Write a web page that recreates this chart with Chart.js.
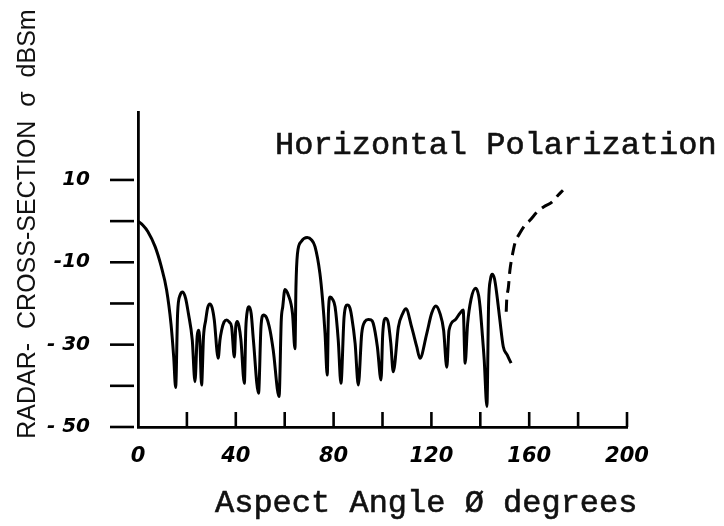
<!DOCTYPE html>
<html>
<head>
<meta charset="utf-8">
<title>Radar Cross-Section - Horizontal Polarization</title>
<script src="https://cdn.jsdelivr.net/npm/chart.js@4.4.1/dist/chart.umd.min.js"></script>
<style>
    html, body { margin: 0; padding: 0; background: #ffffff; }
    #wrap { position: relative; width: 724px; height: 526px; }
</style>
</head>
<body>
<div id="wrap">
    <canvas id="rcsChart" width="724" height="526"></canvas>
</div>
<script>
// --- Data ---
const angleDeg = [
    0, 2, 4, 7, 9.5, 11.7, 13.5, 14.6, 15.4, 16.2, 17.2, 18.3, 19.5, 20.6, 22.2, 23.3,
    24.2, 24.7, 25.3, 26, 26.8, 27.7, 28.5, 29.4, 30.3, 31.2, 32.8, 33.5, 34.2, 35.2,
    36.3, 37.3, 38.3, 39.4, 40, 40.6, 41.3, 42.1, 43.5, 44.1, 44.8, 45.4, 46.3, 47.2,
    49.3, 50.3, 51.3, 52.6, 54, 55.3, 57.7, 58.6, 59.2, 60.1, 61.5, 63.2, 64.2, 64.6,
    65.2, 66.7, 69.2, 71, 72.4, 74.4, 75.5, 76.5, 77.4, 77.9, 78.6, 79.6, 80.6, 81.9,
    83, 84.3, 85.6, 86.6, 87.4, 88.8, 90.1, 91.5, 92.8, 94.2, 95.3, 96.2, 97.9, 99.4,
    100.1, 101.3, 102.4, 103.4, 104.4, 106.5, 108.3, 109.6, 111.9, 114, 115.3, 118.1,
    120.1, 121.8, 123.5, 125, 126.3, 127.2, 129.7, 131.5, 133, 133.8, 134.8, 136.2,
    138.1, 139.3, 139.9, 140.8, 141.6, 142.7, 143.4, 144.2, 144.9, 145.8, 146.7, 148,
    149.4, 151, 152.6
];
const rcsDb = [
    0, -1, -2.5, -6.2, -11, -16.7, -25, -33, -40.4, -22.4, -18, -17.2, -18.8, -22.4, -28.9, -39,
    -28, -26.5, -29, -39.8, -28, -24, -21, -20.1, -21, -24, -33.3, -29, -26.5, -24.5,
    -24, -24.5, -25.7, -33, -25.5, -24.4, -25.5, -28.9, -39.4, -26, -21.5, -20.8, -22.5, -28.9,
    -41.8, -25.7, -22.8, -23.5, -26.5, -31.3, -42.6, -24, -20.8, -16.6, -18, -22.5, -31, -16,
    -8, -5, -4, -4.6, -6.2, -12.7, -19.2, -27.3, -37.4, -22, -18.4, -19, -20.8, -28.9,
    -39.4, -23.2, -20.4, -21, -23.2, -29.7, -39.8, -27.3, -24.4, -23.9, -24, -24.8, -30.5, -38.6,
    -27.3, -23.6, -24.8, -29.7, -36.6, -25.7, -22.4, -21.3, -25.7, -30.5, -33.3, -27.3,
    -22.4, -20.6, -22.4, -26.5, -35.5, -26.5, -24, -22.5, -21.6, -34.5, -25, -19,
    -16.3, -18, -20.8, -27.3, -33.7, -45, -20, -14, -12.9, -14, -17.5, -24,
    -30.5, -32.5, -34.5
];

// dashed continuation past ~150 degrees
const dashAngleDeg = [150.6, 150.8, 151.5, 152.1, 153.2, 154.2, 156.2, 158.5, 160.3, 163.2, 166, 169.3, 171.8, 173.8];
const dashRcsDb    = [-22, -19.2, -16, -12, -8, -5.3, -2.9, -0.8, 0.2, 2.2, 3.5, 4.6, 6.3, 7.5];

// --- Axis ticks ---
const xTickValues = [0, 20, 40, 60, 80, 100, 120, 140, 160, 180, 200];
const xTickLabels = { 0: '0', 40: '40', 80: '80', 120: '120', 160: '160', 200: '200' };
const yTickValues = [10, 0, -10, -20, -30, -40, -50];
const yTickLabels = { 10: '10', '-10': '-10', '-30': '- 30', '-50': '- 50' };

const xTitle = 'Aspect Angle \u00d8 degrees';
const yTitle = 'RADAR-  CROSS-SECTION  \u03c3  dBSm';
const noteText = 'Horizontal Polarization';

const toPoints = (xs, ys) => xs.map((x, i) => ({ x: x, y: ys[i] }));

// --- Tick marks + titles (ticks point inward on x, outward on y) ---
const sketchPlugin = {
    id: 'sketch',
    afterDraw(chart) {
        const ctx = chart.ctx;
        const xs = chart.scales.x;
        const ys = chart.scales.y;
        ctx.save();
        ctx.strokeStyle = '#000';
        ctx.lineWidth = 2.6;
        ctx.lineCap = 'butt';

        // x ticks stand up from the axis
        xTickValues.forEach(v => {
            if (v === 0) return;
            const px = xs.getPixelForValue(v);
            ctx.beginPath();
            ctx.moveTo(px, ys.bottom);
            ctx.lineTo(px, ys.bottom - 15);
            ctx.stroke();
        });

        // y ticks sit left of the axis with a small gap
        yTickValues.forEach(v => {
            const py = ys.getPixelForValue(v);
            ctx.beginPath();
            ctx.moveTo(xs.left - 28, py);
            ctx.lineTo(xs.left - 4, py);
            ctx.stroke();
        });

        ctx.fillStyle = '#111';
        ctx.strokeStyle = '#111';
        ctx.lineWidth = 0.6;
        ctx.textBaseline = 'alphabetic';

        // annotation inside the plot
        ctx.font = '32px "Liberation Mono", monospace';
        ctx.textAlign = 'left';
        ctx.fillText(noteText, 275, 154);
        ctx.strokeText(noteText, 275, 154);

        // x title
        ctx.fillText(xTitle, 215, 512);
        ctx.strokeText(xTitle, 215, 512);

        // y title, rotated
        ctx.translate(35, 224);
        ctx.rotate(-Math.PI / 2);
        ctx.textAlign = 'center';
        ctx.font = '25px "Liberation Sans", sans-serif';
        ctx.fillText(yTitle, 0, 0);
        ctx.restore();
    }
};

const tickFont = { family: '"DejaVu Sans", sans-serif', size: 21, weight: 'bold', style: 'italic' };

new Chart(document.getElementById('rcsChart').getContext('2d'), {
    type: 'line',
    data: {
        datasets: [
            {
                label: 'RCS',
                data: toPoints(angleDeg, rcsDb),
                borderColor: '#000',
                borderWidth: 3,
                pointRadius: 0,
                fill: false,
                cubicInterpolationMode: 'monotone'
            },
            {
                label: 'RCS (dashed)',
                data: toPoints(dashAngleDeg, dashRcsDb),
                borderColor: '#000',
                borderWidth: 3,
                borderDash: [12, 7],
                pointRadius: 0,
                fill: false,
                cubicInterpolationMode: 'monotone'
            }
        ]
    },
    options: {
        responsive: false,
        animation: false,
        devicePixelRatio: 1,
        layout: { padding: { top: 112, right: 97, left: 0, bottom: 0 } },
        plugins: {
            legend: { display: false },
            tooltip: { enabled: false },
            title: { display: false }
        },
        scales: {
            x: {
                type: 'linear',
                min: 0,
                max: 200,
                afterBuildTicks: scale => { scale.ticks = xTickValues.map(v => ({ value: v })); },
                afterFit: scale => { scale.height = 99; },
                grid: { display: false },
                border: { display: true, color: '#000', width: 2.8 },
                ticks: {
                    color: '#000',
                    padding: 9,
                    maxRotation: 0,
                    autoSkip: false,
                    font: tickFont,
                    callback: v => xTickLabels[v] || ''
                }
            },
            y: {
                type: 'linear',
                min: -50,
                max: 26.5,
                afterBuildTicks: scale => { scale.ticks = yTickValues.map(v => ({ value: v })); },
                afterFit: scale => { scale.width = 138; },
                grid: { display: false },
                border: { display: true, color: '#000', width: 2.8 },
                ticks: {
                    color: '#000',
                    padding: 40,
                    autoSkip: false,
                    font: { family: '"DejaVu Sans", sans-serif', size: 20, weight: 'bold', style: 'italic' },
                    callback: v => yTickLabels[v] || ''
                }
            }
        }
    },
    plugins: [sketchPlugin]
});
</script>
</body>
</html>
